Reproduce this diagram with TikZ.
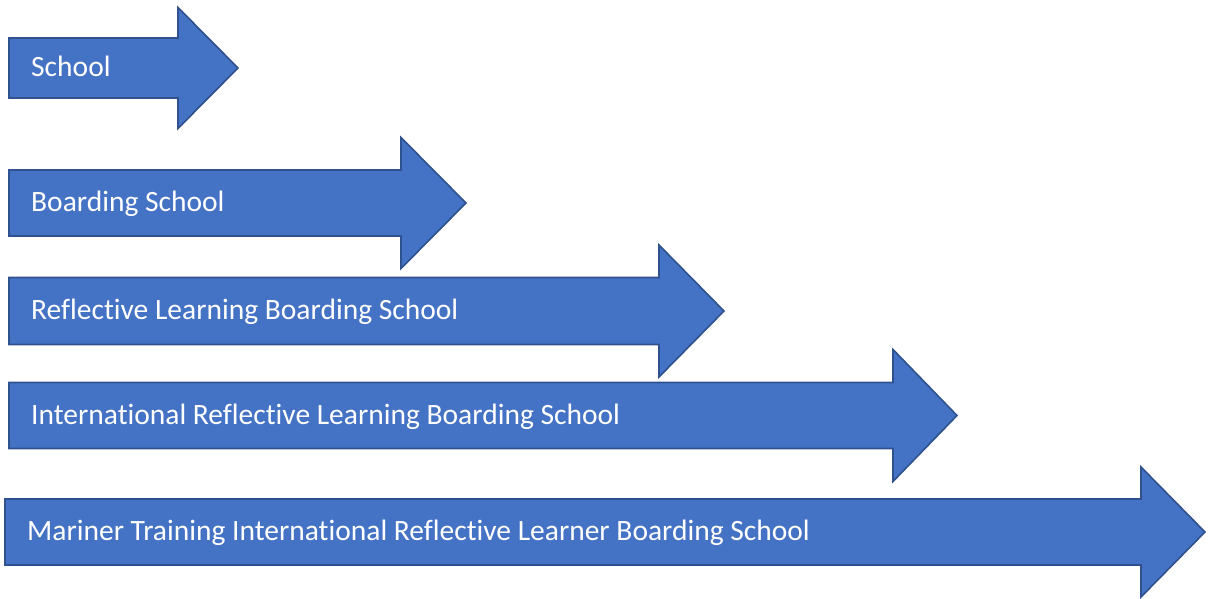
\documentclass[tikz,border=0pt]{standalone}
\usepackage{fontspec}
\setmainfont[Ligatures=NoCommon]{Carlito}
\usetikzlibrary{positioning}
\definecolor{arrowfill}{HTML}{4472C4}
\definecolor{arrowline}{HTML}{2F528F}
\tikzset{stage/.style={fill=arrowfill,draw=arrowline,line width=1.6pt,line join=miter}}
\tikzset{stagetext/.style={anchor=base west,text=white,inner sep=0pt,font=\fontsize{29.5}{34}\selectfont}}
% left x, head x, tip x, centre y, half body, half head
\newcommand{\stagearrow}[6]{%
  \draw[stage] (#1,#4-#5) -- (#2,#4-#5) -- (#2,#4-#6) -- (#3,#4)
    -- (#2,#4+#6) -- (#2,#4+#5) -- (#1,#4+#5) -- cycle;}

\begin{document}
\begin{tikzpicture}[x=1pt,y=-1pt]
    \useasboundingbox (0,0) rectangle (1208,599);
    \stagearrow{9}{178}{238}{68}{30}{60.5}
    \stagearrow{9}{401}{466}{203}{33}{65.5}
    \stagearrow{9}{659}{724}{311}{33.5}{66}
    \stagearrow{9}{893}{957}{415.5}{33}{66}
    \stagearrow{5}{1141}{1205}{532}{33}{65}
    \node[stagetext] (school) at (31,77) {School};
    \node[stagetext] (boarding) at (31,211.5) {Boarding School};
    \node[stagetext] (reflective) at (31,319.5) {Reflective Learning Boarding School};
    \node[stagetext] (international) at (31,424) {International Reflective Learning Boarding School};
    \node[stagetext] (mariner) at (27,540.5) {Mariner Training International Reflective Learner Boarding School};
\end{tikzpicture}
\end{document}
